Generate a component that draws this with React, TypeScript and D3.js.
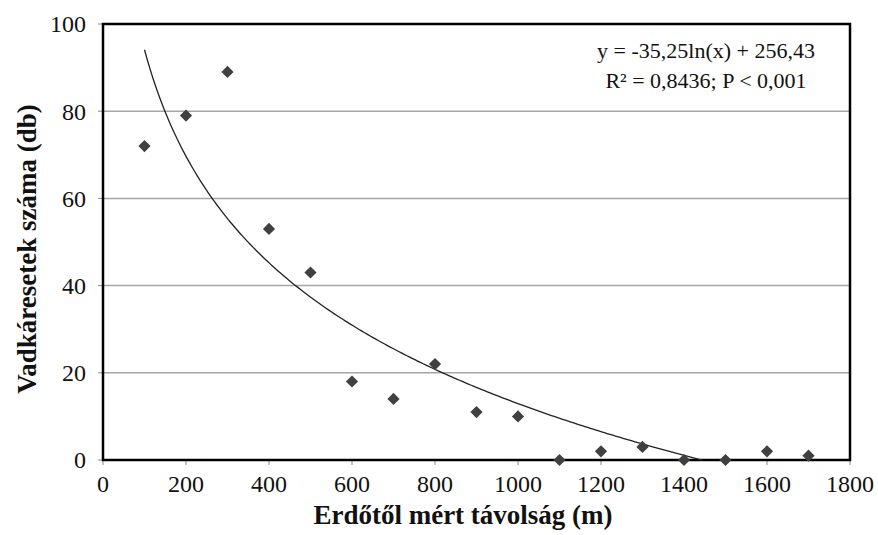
import React from "react";
import * as d3 from "d3";

const distances = [100, 200, 300, 400, 500, 600, 700, 800, 900, 1000, 1100, 1200, 1300, 1400, 1500, 1600, 1700];
const counts = [72, 79, 89, 53, 43, 18, 14, 22, 11, 10, 0, 2, 3, 0, 0, 2, 1];
const xTicks = [0, 200, 400, 600, 800, 1000, 1200, 1400, 1600, 1800];
const yTicks = [0, 20, 40, 60, 80, 100];
const trendA = -35.25;
const trendB = 256.43;
const equationLines = ["y = -35,25ln(x) + 256,43", "R² = 0,8436; P < 0,001"];
const xTitle = "Erdőtől mért távolság (m)";
const yTitle = "Vadkáresetek száma (db)";

export default function App() {
  const W = 878, H = 535;
  const left = 103, right = 850, top = 24, bottom = 460;
  const x = d3.scaleLinear().domain([0, 1800]).range([left, right]);
  const y = d3.scaleLinear().domain([0, 100]).range([bottom, top]);
  const font = "Liberation Serif, Times New Roman, serif";

  const xEnd = Math.exp(trendB / -trendA);
  const trendPts: [number, number][] = [];
  for (let i = 0; i <= 200; i++) {
    const xv = 100 + ((xEnd - 100) * i) / 200;
    trendPts.push([xv, Math.max(0, trendA * Math.log(xv) + trendB)]);
  }
  const line = d3.line<[number, number]>().x(d => x(d[0])).y(d => y(d[1])).curve(d3.curveLinear);
  const diamond = d3.symbol().type(d3.symbolDiamond2).size(95)();

  return (
    <svg width={W} height={H} style={{ position: "absolute", left: 0, top: 0, background: "#fff" }}>
      {yTicks.filter(t => t > 0 && t < 100).map(t => (
        <line key={t} x1={left} x2={right} y1={y(t)} y2={y(t)} stroke="#a6a6a6" strokeWidth={1.5} />
      ))}
      {yTicks.map(t => (
        <g key={"yt" + t}>
          <line x1={left - 5} x2={left} y1={y(t)} y2={y(t)} stroke="#888" strokeWidth={1} />
          <text x={86} y={y(t)} dy="0.35em" textAnchor="end" fontFamily={font} fontSize={24} fill="#111">{t}</text>
        </g>
      ))}
      {xTicks.map(t => (
        <g key={"xt" + t}>
          <line x1={x(t)} x2={x(t)} y1={bottom} y2={bottom + 5} stroke="#888" strokeWidth={1} />
          <text x={x(t)} y={492} textAnchor="middle" fontFamily={font} fontSize={24} fill="#111">{t}</text>
        </g>
      ))}
      <rect x={left} y={top} width={right - left} height={bottom - top} fill="none" stroke="#000" strokeWidth={2.5} />
      <path d={line(trendPts) || ""} fill="none" stroke="#222" strokeWidth={1.3} />
      {distances.map((d, i) => (
        <path key={d} d={diamond || ""} transform={`translate(${x(d)},${y(counts[i])})`} fill="#404040" />
      ))}
      <text x={706} y={58} textAnchor="middle" fontFamily={font} fontSize={22} fill="#111">{equationLines[0]}</text>
      <text x={706} y={88} textAnchor="middle" fontFamily={font} fontSize={22} fill="#111">{equationLines[1]}</text>
      <text x={463} y={524} textAnchor="middle" fontFamily={font} fontSize={27} fontWeight="bold" fill="#111">{xTitle}</text>
      <text transform={`translate(36,249) rotate(-90)`} textAnchor="middle" fontFamily={font} fontSize={27} fontWeight="bold" fill="#111">{yTitle}</text>
    </svg>
  );
}
